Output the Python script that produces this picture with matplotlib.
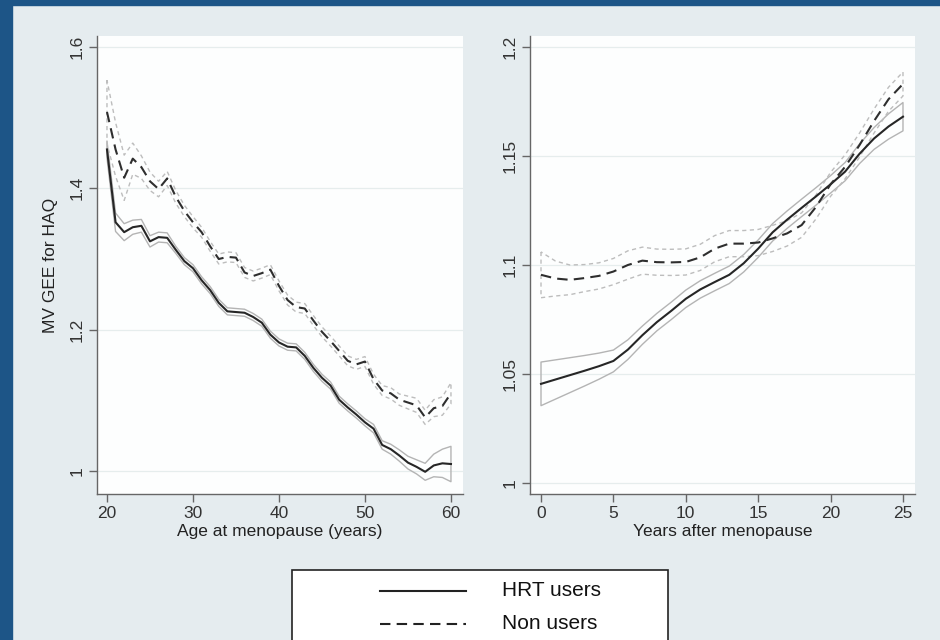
import matplotlib
matplotlib.use('Agg')
import matplotlib.pyplot as plt
from matplotlib.patches import Rectangle
from matplotlib.lines import Line2D
from matplotlib.ticker import FuncFormatter

plt.rcParams['font.family'] = ['Liberation Sans', 'DejaVu Sans']

########## data

# left panel: age at menopause (years)
ages = list(range(20, 61))
hrt_age = [1.455, 1.352, 1.338, 1.345, 1.347, 1.325, 1.331, 1.330, 1.313, 1.297,
           1.287, 1.270, 1.256, 1.238, 1.226, 1.225, 1.224, 1.218, 1.210, 1.193,
           1.182, 1.176, 1.175, 1.163, 1.146, 1.132, 1.121, 1.101, 1.090, 1.080,
           1.069, 1.060, 1.037, 1.031, 1.022, 1.012, 1.006, 0.999, 1.008, 1.011,
           1.010]
hrt_age_ci = [0.012, 0.013, 0.012, 0.010, 0.009, 0.008, 0.007, 0.007, 0.005, 0.005,
              0.005, 0.005, 0.005, 0.005, 0.005, 0.005, 0.005, 0.005, 0.005, 0.005,
              0.005, 0.005, 0.005, 0.005, 0.005, 0.005, 0.005, 0.005, 0.005, 0.005,
              0.005, 0.006, 0.006, 0.007, 0.008, 0.009, 0.010, 0.012, 0.016, 0.020,
              0.025]
non_age = [1.508, 1.455, 1.415, 1.442, 1.430, 1.410, 1.399, 1.414, 1.388, 1.368,
           1.352, 1.338, 1.318, 1.300, 1.303, 1.302, 1.281, 1.276, 1.280, 1.285,
           1.262, 1.242, 1.232, 1.230, 1.213, 1.197, 1.184, 1.170, 1.156, 1.151,
           1.155, 1.130, 1.114, 1.110, 1.101, 1.097, 1.093, 1.076, 1.089, 1.092,
           1.110]
non_age_ci = [0.045, 0.038, 0.032, 0.022, 0.016, 0.013, 0.011, 0.010, 0.009, 0.008,
              0.008, 0.007, 0.007, 0.007, 0.007, 0.007, 0.007, 0.007, 0.007, 0.007,
              0.007, 0.007, 0.007, 0.007, 0.007, 0.007, 0.007, 0.007, 0.007, 0.007,
              0.007, 0.007, 0.007, 0.008, 0.008, 0.009, 0.010, 0.010, 0.012, 0.013,
              0.015]

# right panel: years after menopause
years = list(range(0, 26))
hrt_yrs = [1.0455, 1.0475, 1.0495, 1.0515, 1.0536, 1.0560, 1.0612, 1.0678, 1.0738,
           1.0790, 1.0845, 1.0888, 1.0922, 1.0955, 1.1008, 1.1075, 1.1150, 1.1208,
           1.1262, 1.1315, 1.1370, 1.1428, 1.1510, 1.1580, 1.1635, 1.1680]
hrt_yrs_ci = [0.0100, 0.0090, 0.0080, 0.0070, 0.0060, 0.0050, 0.0045, 0.0042, 0.0040,
              0.0040, 0.0040, 0.0040, 0.0040, 0.0040, 0.0040, 0.0040, 0.0040, 0.0040,
              0.0040, 0.0040, 0.0040, 0.0042, 0.0045, 0.0050, 0.0058, 0.0065]
non_yrs = [1.0955, 1.0938, 1.0932, 1.0940, 1.0950, 1.0970, 1.1000, 1.1020, 1.1013,
           1.1012, 1.1014, 1.1035, 1.1075, 1.1098, 1.1098, 1.1103, 1.1122, 1.1145,
           1.1183, 1.1267, 1.1370, 1.1450, 1.1550, 1.1660, 1.1760, 1.1830]
non_yrs_ci = [0.0105, 0.0080, 0.0068, 0.0062, 0.0060, 0.0060, 0.0065, 0.0062, 0.0060,
              0.0060, 0.0060, 0.0060, 0.0060, 0.0060, 0.0060, 0.0060, 0.0060, 0.0058,
              0.0056, 0.0055, 0.0055, 0.0055, 0.0055, 0.0055, 0.0055, 0.0055]

labels = ['HRT users', 'Non users']

########## figure

fig = plt.figure(figsize=(9.4, 6.4), dpi=100, facecolor='#e5ecef')
# blue frame at left and top
fig.patches.append(Rectangle((0, 0), 12 / 940, 1, transform=fig.transFigure,
                             color='#1d5587', zorder=0))
fig.patches.append(Rectangle((0, 1 - 5 / 640), 1, 5 / 640, transform=fig.transFigure,
                             color='#1d5587', zorder=0))

ax1 = fig.add_axes([97 / 940, 146 / 640, 366 / 940, 458 / 640])
ax2 = fig.add_axes([530 / 940, 146 / 640, 385 / 940, 458 / 640])


def draw_band(ax, x, mid, hw, style):
    lo = [m - h for m, h in zip(mid, hw)]
    hi = [m + h for m, h in zip(mid, hw)]
    if style == 'solid':
        ax.fill_between(x, lo, hi, facecolor='none', edgecolor='#b4b4b4', linewidth=1.0)
    else:
        ax.fill_between(x, lo, hi, facecolor='none', edgecolor='#bdbdbd', linewidth=1.0,
                        linestyle=(0, (3, 2.5)))


for ax in [ax1, ax2]:
    ax.set_facecolor('#fdfefe')
    for s in ['top', 'right']:
        ax.spines[s].set_visible(False)
    for s in ['left', 'bottom']:
        ax.spines[s].set_color('#666666')
        ax.spines[s].set_linewidth(1.0)
    ax.tick_params(axis='both', colors='#666666', labelcolor='#333333', labelsize=12.5,
                   length=6, width=1.0)
    ax.tick_params(axis='y', labelrotation=90, pad=3)
    ax.tick_params(axis='x', pad=3)
    ax.yaxis.grid(True, color='#e6eded', linewidth=0.9)
    ax.set_axisbelow(True)
    ax.yaxis.set_major_formatter(FuncFormatter(lambda v, p: '%g' % round(v, 3)))

# left panel
draw_band(ax1, ages, hrt_age, hrt_age_ci, 'solid')
draw_band(ax1, ages, non_age, non_age_ci, 'dash')
ax1.plot(ages, hrt_age, color='#262626', linewidth=1.5)
ax1.plot(ages, non_age, color='#2e2e2e', linewidth=1.5, dashes=(5, 3))
ax1.set_xlim(18.84, 61.4)
ax1.set_ylim(0.9676, 1.6155)
ax1.set_xticks([20, 30, 40, 50, 60])
ax1.set_yticks([1, 1.2, 1.4, 1.6])
ax1.set_xlabel('Age at menopause (years)', fontsize=12.5, color='#222222', labelpad=2)
ax1.set_ylabel('MV GEE for HAQ', fontsize=12.5, color='#222222', labelpad=8)

# right panel
draw_band(ax2, years, hrt_yrs, hrt_yrs_ci, 'solid')
draw_band(ax2, years, non_yrs, non_yrs_ci, 'dash')
ax2.plot(years, hrt_yrs, color='#262626', linewidth=1.5)
ax2.plot(years, non_yrs, color='#2e2e2e', linewidth=1.5, dashes=(5, 3))
ax2.set_xlim(-0.76, 25.83)
ax2.set_ylim(0.995, 1.205)
ax2.set_xticks([0, 5, 10, 15, 20, 25])
ax2.set_yticks([1, 1.05, 1.1, 1.15, 1.2])
ax2.set_xlabel('Years after menopause', fontsize=12.5, color='#222222', labelpad=2)

for ax in [ax1, ax2]:
    for t in ax.get_yticklabels():
        t.set_va('center')

# legend box below the panels
fig.patches.append(Rectangle((292 / 940, -0.05), 376 / 940, 1 - 570 / 640 + 0.05,
                             transform=fig.transFigure, facecolor='white',
                             edgecolor='#222222', linewidth=1.2, zorder=1))
for i, lab in enumerate(labels):
    y = 1 - (591 + 32.5 * i) / 640
    ln = Line2D([380 / 940, 466 / 940], [y, y], transform=fig.transFigure,
                color='#222222', linewidth=1.5, zorder=2)
    if i == 1:
        ln.set_dashes((5, 3))
    fig.lines.append(ln)
    fig.text(502 / 940, y, lab, fontsize=15, color='#111111', va='center', ha='left',
             zorder=3)

fig.savefig('out.png', dpi=100, facecolor=fig.get_facecolor())
